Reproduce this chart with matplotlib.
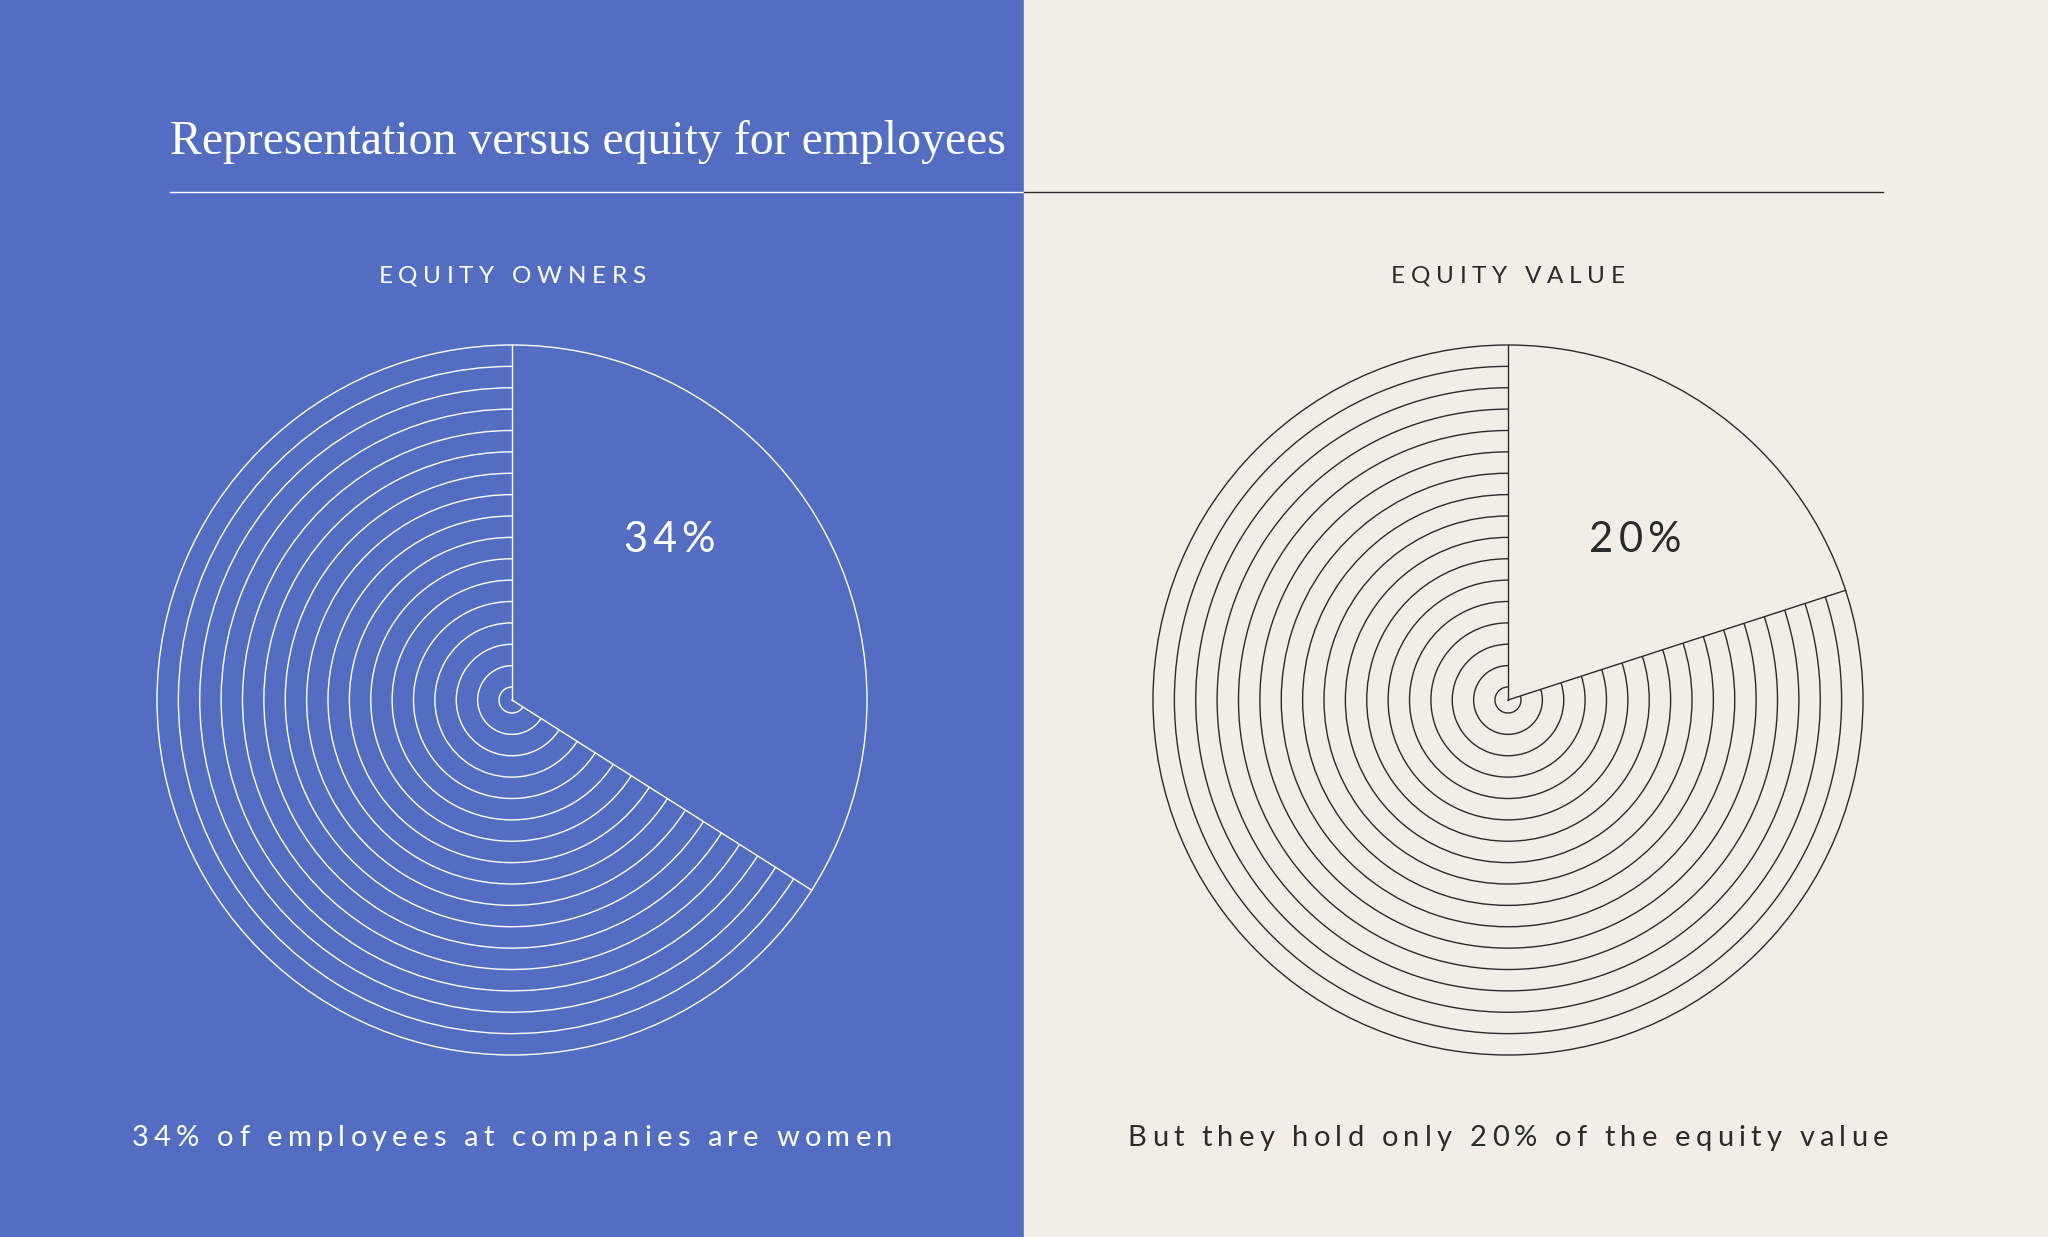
import numpy as np
import matplotlib
matplotlib.use("Agg")
import matplotlib.pyplot as plt
from matplotlib.patches import Arc, Circle, Rectangle
from matplotlib.font_manager import FontProperties, findfont, get_font

W, H = 2048, 1237

# data
panels = ["EQUITY OWNERS", "EQUITY VALUE"]
shares = [34, 20]
share_labels = ["34%", "20%"]
captions = ["34% of employees at companies are women",
            "But they hold only 20% of the equity value"]
title = "Representation versus equity for employees"

blue = "#536dc3"
beige = "#f2eee7"
ink = ["white", "#2b2b2b"]

n_rings = 17
r_in, r_out = 13, 355
centers_x = [512, 1508]
cy = H - 700

SANS = "Lato"


def tracked(ax, x, y, s, size, track, color):
    # letter-spaced text, centred on x (all in pixels)
    font = get_font(findfont(FontProperties(family=SANS)))
    font.set_size(size, 100)
    adv = [font.load_char(ord(ch)).linearHoriAdvance / 65536 for ch in s]
    total = sum(adv) + track * (len(s) - 1)
    pos = x - total / 2
    for ch, a in zip(s, adv):
        if ch != " ":
            ax.text(pos, y, ch, color=color, fontsize=size, family=SANS,
                    ha="left", va="baseline")
        pos += a + track


fig = plt.figure(figsize=(W / 100, H / 100), dpi=100)
ax = fig.add_axes([0, 0, 1, 1])
ax.set_xlim(0, W)
ax.set_ylim(0, H)
ax.set_aspect("equal")
ax.axis("off")

# two background panels
ax.add_patch(Rectangle((0, 0), W / 2, H, color=blue, zorder=0))
ax.add_patch(Rectangle((W / 2, 0), W / 2, H, color=beige, zorder=0))

# title + rule
ax.text(170, H - 154, title, color="white", fontsize=34.4,
        family=["Liberation Serif", "DejaVu Serif"], va="baseline", ha="left")
ax.plot([170, W / 2], [H - 192, H - 192], color="white", lw=1.0)
ax.plot([W / 2, 1883], [H - 192, H - 192], color="#2b2b2b", lw=1.0)

radii = np.linspace(r_in, r_out, n_rings)
label_off = [(157, 163), (127, 163)]

for i in range(2):
    cx = centers_x[i]
    c = ink[i]
    sweep = shares[i] / 100 * 360
    edge = 90 - sweep  # wedge runs clockwise from 12 o'clock
    # outer circle closes the wedge
    ax.add_patch(Circle((cx, cy), r_out, fill=False, ec=c, lw=1.0))
    # concentric arcs fill the remainder
    for r in radii[:-1]:
        ax.add_patch(Arc((cx, cy), 2 * r, 2 * r, theta1=90, theta2=edge + 360,
                         ec=c, lw=1.0))
    # radial edges
    ax.plot([cx, cx], [cy, cy + r_out], color=c, lw=1.0)
    a = np.deg2rad(edge)
    ax.plot([cx, cx + r_out * np.cos(a)], [cy, cy + r_out * np.sin(a)],
            color=c, lw=1.0)

    tracked(ax, cx, H - 283, panels[i], 17.5, 5.7, c)
    dx, dy = label_off[i]
    tracked(ax, cx + dx, cy + dy - 15, share_labels[i], 30, 5, c)
    tracked(ax, cx, H - 1146, captions[i], 21, 5.2, c)

fig.savefig("out.png", dpi=100, facecolor=beige)
